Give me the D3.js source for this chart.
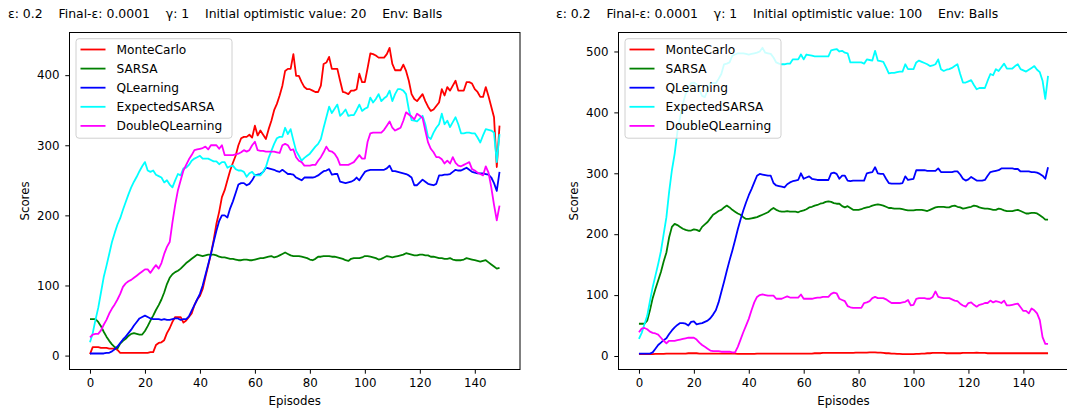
<!DOCTYPE html>
<html>
<head>
<meta charset="utf-8">
<script src="https://cdn.jsdelivr.net/npm/d3@7"></script>
<style>
  html, body { margin: 0; padding: 0; background: #fff; }
  svg { display: block; font-family: "DejaVu Sans", sans-serif; }
  .ttl { white-space: pre; }
</style>
</head>
<body>
<svg id="chart" width="1067" height="410"></svg>
<script>
// Episode scores per learning method, two runs with different optimistic initial values
const seriesNames = ["MonteCarlo", "SARSA", "QLearning", "ExpectedSARSA", "DoubleQLearning"];
const seriesColors = ["#ff0000", "#008000", "#0000ff", "#00ffff", "#ff00ff"];
const xTicks = [0, 20, 40, 60, 80, 100, 120, 140];
const yTicksLeft = [0, 100, 200, 300, 400];
const yTicksRight = [0, 100, 200, 300, 400, 500];
const titleLeft = "ε: 0.2    Final-ε: 0.0001    γ: 1    Initial optimistic value: 20    Env: Balls";
const titleRight = "ε: 0.2    Final-ε: 0.0001    γ: 1    Initial optimistic value: 100    Env: Balls";

// Initial optimistic value 20
const leftMonteCarlo = [2,12,12,12,11,11,11,10,10,10,8,4,4,4,4,4,4,4,4,4,4,4,5,5,15,18,19,22,32,39,48,55,55,55,47,50,55,60,72,80,85,95,112,128,145,165,188,205,226,236,250,264,275,285,300,310,312,312,315,311,328,314,321,315,309,323,335,350,359,371,385,406,409,409,430,399,399,390,383,380,380,378,376,376,385,416,418,426,409,409,409,392,376,375,373,378,378,380,402,390,390,410,431,430,428,425,425,425,430,439,416,407,407,407,415,406,392,373,366,363,368,373,363,355,349,351,356,361,380,371,383,378,385,392,378,378,378,390,390,388,380,376,369,369,383,370,355,340,269,328];
const leftSARSA = [52,52,52,48,42,34,27,21,16,12,10,17,21,24,28,31,32,31,30,30,35,42,50,57,65,72,80,90,102,111,116,119,121,124,128,132,135,138,141,144,143,142,143,144,144,144,143,141,140,140,139,138,138,137,136,136,137,137,136,136,137,138,139,139,140,141,142,140,141,143,145,147,145,143,142,142,142,141,140,139,137,136,138,141,141,142,142,142,141,141,140,139,138,136,135,138,139,139,139,140,142,142,141,140,139,137,138,140,142,141,140,141,142,143,144,146,145,144,143,143,144,144,143,143,141,141,140,139,139,138,138,139,137,136,136,136,137,139,138,137,136,135,134,135,136,133,130,127,124,125];
const leftQLearning = [3,3,3,3,3,3,4,4,6,9,13,18,23,27,32,37,43,48,53,55,57,55,53,52,52,52,51,52,51,51,52,53,53,51,52,52,56,64,72,80,88,100,115,130,145,162,178,192,200,200,197,210,220,232,244,246,246,243,245,250,257,258,259,262,268,267,266,265,263,262,265,262,259,259,258,254,252,250,254,254,254,254,255,257,260,263,264,266,258,259,259,248,247,246,247,248,250,254,250,256,262,264,265,265,265,265,265,265,267,271,263,263,262,261,260,259,257,254,243,243,247,251,248,245,244,243,245,257,257,258,258,259,262,265,264,264,266,268,265,262,261,260,260,260,259,258,254,246,235,262];
const leftExpectedSARSA = [19,32,51,68,90,112,128,145,162,175,187,196,208,219,230,240,248,255,263,270,276,264,262,264,258,256,254,247,250,244,240,250,259,257,267,268,272,278,281,283,285,281,281,281,279,277,277,273,276,276,268,270,271,266,264,264,262,255,260,262,257,257,257,262,269,282,292,302,310,312,312,325,316,323,307,292,285,278,282,285,288,293,298,302,309,325,340,355,346,352,358,342,346,351,342,343,343,350,358,349,352,354,368,361,366,373,363,367,370,378,363,373,380,380,378,373,351,336,335,334,338,342,330,312,309,318,325,330,345,330,335,326,333,340,330,317,317,318,318,317,317,311,304,314,323,322,321,318,276,316];
const leftDoubleQLearning = [26,30,31,31,36,44,51,60,67,73,80,88,98,103,106,108,111,114,117,120,123,123,118,124,129,124,132,145,155,162,190,215,236,250,264,272,280,286,293,294,295,296,298,294,300,300,300,295,300,286,286,286,286,287,288,290,293,291,293,300,305,293,292,292,291,291,291,291,290,289,300,302,300,293,294,283,278,276,271,271,271,272,272,278,283,290,298,292,291,288,282,272,272,272,272,274,276,281,286,281,281,305,317,318,318,318,318,322,328,334,325,321,323,325,335,347,344,341,337,345,342,339,321,304,295,290,283,283,280,274,278,274,283,275,271,270,272,274,276,266,264,261,259,257,270,261,240,215,193,214];

// Initial optimistic value 100
const rightMonteCarlo = [3,3,3,3,3,3,3.5,3.5,3.5,3.5,4,4,4,4,4,4,4,4,4.5,4.5,4.5,4.5,4,4,4,4,4,4,4,4,4,4,4,4,4,4,3.5,3.5,3.5,3.5,3.5,3.5,3.5,4,4,4,4,4,4,4,4,4,4,4,4,4,4,4,4,4,4,4,4,4,4.5,4.5,4.5,5,5,5,5,5,5,5,5,5,5,5,5,5.5,5.5,5.5,5.5,5.5,6,6,6,5.5,5.5,5,4.5,4.5,4,4,3.5,3.5,3,3,3,3,3,3.5,3.5,4,4,4.5,4.5,5,5,5,5,5,4.5,4.5,4.5,4.5,4.5,4.5,5,5,5,5,5,5.5,5,5,5,4.5,4.5,4.5,4.5,4.5,4.5,4.5,4.5,4.5,4.5,4.5,4.5,4.5,4.5,4.5,4.5,4.5,4.5,4.5,4.5,4.5,4.5,4.5];
const rightSARSA = [53,53,53,58,75,95,110,124,138,155,170,195,212,217,215,212,209,207,206,206,208,207,205,212,216,220,226,232,235,238,240,244,247,244,240,237,234,232,228,225,225,226,227,228,230,232,234,236,240,243,240,238,237,237,238,237,237,237,236,238,239,241,244,245,247,248,250,251,253,254,253,251,250,250,246,244,246,243,240,240,240,241,243,244,245,247,248,249,248,247,245,243,243,242,242,242,241,240,239,239,239,240,240,240,239,238,240,242,244,245,245,245,244,244,246,247,245,244,242,243,244,245,247,246,244,243,242,242,241,240,240,242,241,239,238,238,238,239,240,238,236,234,234,235,235,234,231,228,224,224];
const rightQLearning = [4,4,4,4,4,6,12,18,22,26,29,36,42,47,51,54,54,53,50,56,57,52,53,54,56,58,62,68,75,88,105,122,140,157,173,190,208,224,239,252,264,274,285,296,299,298,297,296,296,284,280,279,278,277,282,285,287,288,289,300,291,293,295,291,290,289,289,289,289,289,300,301,299,291,296,296,288,287,288,288,288,288,288,300,301,302,310,300,299,299,291,284,283,283,283,283,284,295,289,290,291,305,305,305,305,304,304,304,304,308,302,302,302,302,302,303,303,298,291,288,290,294,291,288,288,288,289,296,302,303,304,305,308,308,308,308,308,307,307,303,303,303,303,302,302,301,299,296,291,310];
const rightExpectedSARSA = [28,38,52,66,90,113,132,151,172,200,228,270,305,332,368,392,414,430,440,448,449,446,437,427,425,436,448,448,448,455,463,479,480,482,493,495,497,497,497,496,495,496,497,498,500,506,498,497,496,490,482,480,479,479,480,480,487,487,487,495,487,495,494,493,492,492,492,492,492,492,502,503,504,500,501,498,497,482,482,482,482,482,480,487,486,485,501,485,484,483,474,464,465,465,466,467,467,479,471,471,471,482,485,483,481,479,476,477,479,487,471,468,470,471,473,476,479,463,449,449,451,453,445,438,440,440,440,452,463,461,471,468,474,480,472,472,472,476,479,471,469,467,470,473,476,470,466,452,422,460];
const rightDoubleQLearning = [39,45,46,44,40,38,37,35,30,25,21,25,25,25,26,27,28,29,30,30,30,27,22,18,15,12,9,8,8,8,7,7,7,7,6,6,15,27,39,50,61,75,88,97,100,101,100,99,99,99,94,94,94,96,98,96,96,96,96,101,94,94,94,94,95,96,96,97,97,97,102,104,103,94,92,90,82,80,79,79,79,79,87,88,90,95,97,95,95,95,93,90,87,87,87,87,88,89,92,83,84,94,95,95,95,94,94,97,106,97,96,95,95,95,93,91,90,86,83,81,87,88,84,81,84,85,87,87,91,88,90,89,87,91,83,83,84,85,86,80,74,74,70,78,75,70,59,31,20,20];

const panels = [
  { title: titleLeft, left: 69.5, right: 520, titleX: 8, yTicks: yTicksLeft,
    series: [leftMonteCarlo, leftSARSA, leftQLearning, leftExpectedSARSA, leftDoubleQLearning] },
  { title: titleRight, left: 618.5, right: 1068.5, titleX: 556, yTicks: yTicksRight,
    series: [rightMonteCarlo, rightSARSA, rightQLearning, rightExpectedSARSA, rightDoubleQLearning] }
];

const plotTop = 32.5, plotBottom = 369.5;
const svg = d3.select("#chart");
const fontSize = 11.8;

panels.forEach((p, pi) => {
  const n = p.series[0].length;
  const xPad = 0.05 * (n - 1);
  const x = d3.scaleLinear().domain([-xPad, n - 1 + xPad]).range([p.left, p.right]);
  const all = p.series.flat();
  const lo = d3.min(all), hi = d3.max(all);
  const yPad = 0.05 * (hi - lo);
  const y = d3.scaleLinear().domain([lo - yPad, hi + yPad]).range([plotBottom, plotTop]);

  const g = svg.append("g");

  // title line
  g.append("text").attr("class", "ttl")
    .attr("x", p.titleX).attr("y", 18)
    .attr("font-size", 12.45).attr("fill", "#000")
    .text(p.title);

  // clip for the plotting area
  const clipId = "clip" + pi;
  svg.append("clipPath").attr("id", clipId)
    .append("rect").attr("x", p.left).attr("y", plotTop)
    .attr("width", p.right - p.left).attr("height", plotBottom - plotTop);

  // lines
  const line = d3.line().x((d, i) => x(i)).y(d => y(d));
  const lg = g.append("g").attr("clip-path", `url(#${clipId})`);
  p.series.forEach((s, si) => {
    lg.append("path").datum(s)
      .attr("d", line)
      .attr("fill", "none")
      .attr("stroke", seriesColors[si])
      .attr("stroke-width", 1.8)
      .attr("stroke-linejoin", "round")
      .attr("stroke-linecap", "butt");
  });

  // axes
  const xAxis = d3.axisBottom(x).tickValues(xTicks).tickSize(4.2).tickPadding(4.5).tickFormat(d3.format("d"));
  const yAxis = d3.axisLeft(y).tickValues(p.yTicks).tickSize(4.2).tickPadding(5.8).tickFormat(d3.format("d"));
  const gx = g.append("g").attr("transform", `translate(0,${plotBottom})`).call(xAxis);
  const gy = g.append("g").attr("transform", `translate(${p.left},0)`).call(yAxis);
  [gx, gy].forEach(a => {
    a.select(".domain").remove();
    a.selectAll("line").attr("stroke", "#000").attr("stroke-width", 1);
    a.selectAll("text").attr("font-size", fontSize).attr("fill", "#000")
      .attr("font-family", "DejaVu Sans, sans-serif");
  });

  // frame
  g.append("rect").attr("x", p.left).attr("y", plotTop)
    .attr("width", p.right - p.left).attr("height", plotBottom - plotTop)
    .attr("fill", "none").attr("stroke", "#000").attr("stroke-width", 1);

  // axis labels
  g.append("text").attr("x", (p.left + p.right) / 2).attr("y", 405)
    .attr("text-anchor", "middle").attr("font-size", fontSize).attr("fill", "#000")
    .text("Episodes");
  g.append("text")
    .attr("transform", `translate(${p.left - 41},${(plotTop + plotBottom) / 2}) rotate(-90)`)
    .attr("text-anchor", "middle").attr("font-size", fontSize).attr("fill", "#000")
    .text("Scores");

  // legend
  const lx = p.left + 6.5, ly = plotTop + 6.2;
  const lgd = g.append("g");
  lgd.append("rect").attr("x", lx).attr("y", ly)
    .attr("width", 156).attr("height", 99.5).attr("rx", 3)
    .attr("fill", "#fff").attr("fill-opacity", 0.8)
    .attr("stroke", "#d0d0d0").attr("stroke-width", 1);
  seriesNames.forEach((name, si) => {
    const yy = ly + 10.8 + si * 19.1;
    lgd.append("line").attr("x1", lx + 4.5).attr("x2", lx + 29.5)
      .attr("y1", yy).attr("y2", yy)
      .attr("stroke", seriesColors[si]).attr("stroke-width", 1.8);
    lgd.append("text").attr("x", lx + 40.5).attr("y", yy + 4.3)
      .attr("font-size", 12.2).attr("fill", "#000").text(name);
  });
});
</script>
</body>
</html>
